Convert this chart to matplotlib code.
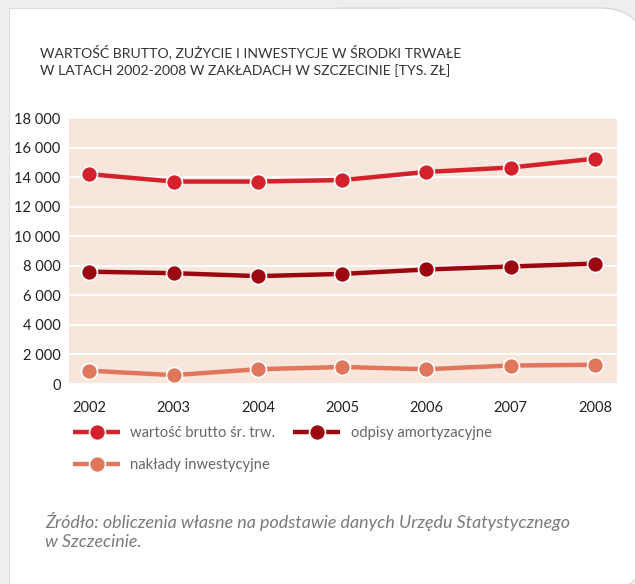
import matplotlib
matplotlib.use("Agg")
import matplotlib.pyplot as plt
from matplotlib.patches import FancyBboxPatch, Rectangle
import matplotlib.font_manager as fm

years = ["2002", "2003", "2004", "2005", "2006", "2007", "2008"]
wartosc_brutto = [14200, 13700, 13700, 13800, 14350, 14650, 15250]
odpisy = [7600, 7500, 7300, 7450, 7750, 7950, 8150]
naklady = [900, 600, 1000, 1150, 1000, 1250, 1300]
series_names = ["wartość brutto śr. trw.", "odpisy amortyzacyjne", "nakłady inwestycyjne"]
yticks = list(range(0, 18001, 2000))
ytick_labels = [f"{v:,}".replace(",", " ") for v in yticks]

title = "WARTOŚĆ BRUTTO, ZUŻYCIE I INWESTYCJE W ŚRODKI TRWAŁE\nW LATACH 2002-2008 W ZAKŁADACH W SZCZECINIE [TYS. ZŁ]"
source = "Źródło: obliczenia własne na podstawie danych Urzędu Statystycznego\nw Szczecinie."

names = {f.name for f in fm.fontManager.ttflist}
fam = [f for f in ["Lato", "DejaVu Sans"] if f in names]
plt.rcParams["font.family"] = fam

W, H = 635, 584
fig = plt.figure(figsize=(W / 100, H / 100), dpi=100)
fig.patch.set_facecolor("#eeeeee")

# card (rounded on the right side only); work in pixel-based figure coords
from matplotlib.transforms import Affine2D
px = Affine2D().scale(1.0 / W, 1.0 / H) + fig.transFigure
card_r = FancyBboxPatch((300, -8), 645 - 300, 576 + 8,
                        boxstyle="round,pad=0,rounding_size=45",
                        transform=px, facecolor="white",
                        edgecolor="#d4d4d4", linewidth=0.8, zorder=0)
card_l = Rectangle((9, -60), 400 - 9, 576 + 60,
                   transform=px, facecolor="white",
                   edgecolor="#dddddd", linewidth=0.8, zorder=0.1)
card_fill = Rectangle((10, -60), 420 - 10, 575 + 60,
                      transform=px, facecolor="white",
                      edgecolor="none", zorder=0.2)
fig.patches.extend([card_r, card_l, card_fill])

ax = fig.add_axes([69 / W, 1 - 384 / H, (617 - 69) / W, (384 - 118) / H])
ax.set_zorder(2)
ax.set_facecolor("#f8e5dc")
x = list(range(len(years)))

colors = ["#d3222b", "#9b0810", "#e0775c"]
data = [wartosc_brutto, odpisy, naklady]
handles = []
for vals, c, n in zip(data, colors, series_names):
    h, = ax.plot(x, vals, color=c, lw=3.2, marker="o", markersize=11.5,
                 markerfacecolor=c, markeredgecolor="white", markeredgewidth=1.2,
                 label=n, zorder=3, solid_capstyle="butt")
    handles.append(h)

ax.set_xlim(-0.24, 6.26)
ax.set_ylim(0, 18000)
ax.set_yticks(yticks)
fs_tick = 10.5
ax.set_yticklabels(ytick_labels, fontsize=fs_tick, color="#222222")
ax.set_xticks(x)
ax.set_xticklabels(years, fontsize=fs_tick, color="#222222")
ax.tick_params(axis="both", length=0)
ax.tick_params(axis="y", pad=6)
ax.tick_params(axis="x", pad=12)
ax.grid(axis="y", color="white", lw=1.3)
ax.set_axisbelow(True)
for s in ax.spines.values():
    s.set_visible(False)

fig.text(40 / W, 1 - 44 / H, title, fontsize=10.1, color="#333333",
         va="top", ha="left", linespacing=1.45, zorder=3)

leg = fig.legend([handles[0], handles[2], handles[1]],
                 [series_names[0], series_names[2], series_names[1]],
                 ncol=2, loc="upper left", bbox_to_anchor=(73 / W, 1 - 426 / H),
                 frameon=False, fontsize=10.6, handlelength=3.2,
                 handletextpad=0.7, columnspacing=1.2, labelspacing=1.25,
                 borderaxespad=0, borderpad=0)
leg.set_zorder(3)
for t in leg.get_texts():
    t.set_color("#666666")

fig.text(45 / W, 1 - 512 / H, source, fontsize=12.9, color="#7a7a7a",
         style="italic", va="top", ha="left", linespacing=1.2, zorder=3)

fig.savefig("out.png", dpi=100, facecolor=fig.get_facecolor())
